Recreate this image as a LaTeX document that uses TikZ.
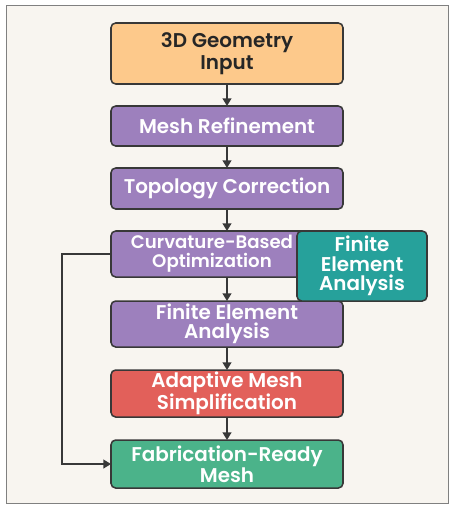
\documentclass[tikz,border=0pt]{standalone}
\usepackage{fontspec}
\setmainfont{Poppins}[BoldFont={Poppins SemiBold}]
\usepackage{tikz}
\usetikzlibrary{calc,positioning,arrows.meta}
\definecolor{geoorange}{HTML}{FDC98B}
\definecolor{stepviolet}{HTML}{9D80BD}
\definecolor{feateal}{HTML}{26A19B}
\definecolor{simpred}{HTML}{E2605A}
\definecolor{fabgreen}{HTML}{4BB38A}
\definecolor{edgegray}{HTML}{383838}
\definecolor{paper}{HTML}{F8F5F0}

\begin{document}
\begin{tikzpicture}[x=0.03cm,y=-0.03cm,
		box/.style={draw=edgegray,line width=1.3pt,rounded corners=4pt,minimum width=6.96cm,
			inner sep=0pt,outer sep=0pt,align=center,text=white,font=\fontsize{17}{16.5}\selectfont\bfseries},
		link/.style={->,draw=edgegray,line width=1.3pt},
		>={Triangle[width=7.5pt,length=6.5pt]},
		node distance=0.66cm]
		\useasboundingbox (0,0) rectangle (453,509);
		\draw[fill=paper,draw=gray,line width=0.8pt] (6,5) rectangle (448,503);
		% main column
		\node(geo) [box,fill=geoorange,text=black!85,minimum height=1.83cm,
			font=\fontsize{17}{19}\selectfont\bfseries] at (227,53.5) {3D Geometry\\Input};
		\node(refine) [box,below=of geo,fill=stepviolet,minimum height=1.2cm] {Mesh Refinement};
		\node(topo) [box,below=of refine,fill=stepviolet,minimum height=1.23cm] {Topology Correction};
		\node(curv) [box,below=of topo,fill=stepviolet,minimum height=1.38cm] {};
		\node(curvtext) [align=center,text=white,inner sep=0pt,font=\fontsize{15.5}{16.5}\selectfont\bfseries]
			at ($(curv)+(-15,0)$) {Curvature-Based\\Optimization};
		\node(fea) [box,below=0.72cm of curv,fill=stepviolet,minimum height=1.38cm] {Finite Element\\Analysis};
		\node(simp) [box,below=0.69cm of fea,fill=simpred,minimum height=1.41cm] {Adaptive Mesh\\Simplification};
		\node(fab) [box,below=0.69cm of simp,fill=fabgreen,minimum height=1.44cm] {Fabrication-Ready\\Mesh};
		% side box
		\node(side) [box,fill=feateal,minimum width=3.9cm,minimum height=2.1cm,anchor=north west]
			at ($(curv.north west)+(186,0)$) {Finite\\Element\\Analysis};
		% connectors
		\draw[link] (geo) -- (refine);
		\draw[link] (refine) -- (topo);
		\draw[link] (topo) -- (curv);
		\draw[link] (curv) -- (fea);
		\draw[link] (fea) -- (simp);
		\draw[link] (simp) -- (fab);
		\draw[link] (curv.west) -- ++(-49,0) |- (fab.west);
	\end{tikzpicture}
\end{document}
